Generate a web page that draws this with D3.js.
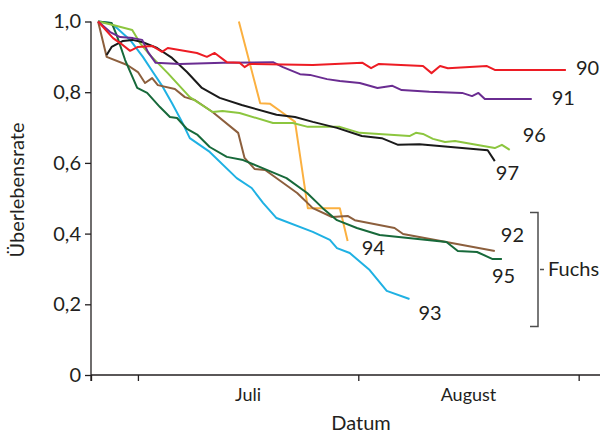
<!DOCTYPE html>
<html>
<head>
<meta charset="utf-8">
<script src="https://cdn.jsdelivr.net/npm/d3@7"></script>
<style>
  body { margin: 0; background: #fff; }
  svg text { font-family: Lato, "Open Sans", sans-serif; fill: #231f20; }
</style>
</head>
<body>
<svg id="chart" width="600" height="435"></svg>
<script>
// days counted from 1 June (1 July = 30, 1 August = 61, 1 September = 92)
const monthTicks = [30, 61, 92];
const monthNames = ["Juli", "August"];
const yTicks = [0, 0.2, 0.4, 0.6, 0.8, 1.0];

const s90 = [[24.4,1.0],[26.5,0.953],[27.5,0.939],[28.9,0.917],[30,0.928],[32,0.931],[33.4,0.914],[34.2,0.925],[38.3,0.911],[39.7,0.9],[40.8,0.911],[42.5,0.885],[44.3,0.883],[45,0.871],[45.7,0.88],[54.6,0.877],[61.6,0.883],[62.8,0.868],[63.9,0.88],[70.1,0.874],[71.3,0.854],[72.5,0.874],[73.6,0.868],[79.1,0.874],[80.2,0.863],[90.2,0.863]];
const s91 = [[24.4,1.0],[26.1,0.97],[27.5,0.956],[29.3,0.953],[30.6,0.948],[31.4,0.914],[32.5,0.883],[35.9,0.88],[42,0.883],[49,0.885],[50.4,0.871],[52.8,0.851],[54.2,0.849],[56.6,0.837],[58.4,0.832],[61.2,0.826],[63.7,0.812],[65.8,0.818],[67.1,0.806],[71,0.801],[75.6,0.798],[77,0.789],[77.9,0.798],[78.8,0.781],[85.4,0.781]];
const s92 = [[24.4,1.0],[25.6,0.9],[28.5,0.877],[30,0.857],[31,0.826],[32,0.84],[32.8,0.82],[35.2,0.809],[36.6,0.786],[38,0.778],[40.5,0.744],[44.1,0.685],[45,0.614],[46.4,0.583],[47.9,0.58],[52.4,0.515],[54.6,0.472],[57.3,0.447],[59.5,0.45],[60.5,0.438],[66.1,0.416],[67.3,0.399],[80.2,0.351]];
const s93 = [[24.4,1.0],[26.1,0.996],[27,0.982],[28.9,0.948],[30.7,0.9],[32.1,0.857],[33.5,0.815],[34.8,0.769],[36.2,0.716],[37.3,0.67],[40.1,0.631],[43.9,0.557],[46,0.529],[47.6,0.487],[49.5,0.444],[54.6,0.405],[57,0.382],[58,0.359],[59.8,0.345],[62.6,0.297],[65,0.238],[68.2,0.215]];
const s94 = [[44.2,1.0],[47.2,0.769],[48.6,0.767],[50.4,0.741],[52.1,0.716],[53.9,0.472],[58.4,0.472],[59.5,0.379]];
const s95 = [[24.4,1.0],[26.3,0.996],[27,0.962],[28.2,0.891],[29.9,0.812],[31.3,0.798],[33.1,0.758],[34.5,0.73],[35.5,0.727],[36.9,0.696],[38.4,0.679],[40.1,0.645],[42.5,0.617],[44.8,0.608],[47.2,0.588],[50.9,0.557],[53.8,0.515],[56,0.472],[58,0.438],[60.8,0.416],[64,0.396],[73.4,0.376],[75,0.351],[77.7,0.348],[79.9,0.328],[81.2,0.328]];
const s96 = [[24.4,1.0],[26.5,0.99],[29.2,0.976],[30.3,0.939],[31.7,0.905],[34.2,0.854],[37.3,0.786],[40.5,0.744],[41.9,0.747],[44.3,0.741],[49,0.713],[51.8,0.713],[53.9,0.702],[58.4,0.702],[61.2,0.685],[68.2,0.676],[69.1,0.685],[70.1,0.682],[71.5,0.668],[73.2,0.659],[74.6,0.662],[80.2,0.642],[81.2,0.651],[82.3,0.637]];
const s97 = [[25.6,0.905],[26.3,0.928],[27.9,0.945],[29.2,0.948],[30.6,0.942],[32.7,0.925],[34.8,0.897],[36.9,0.857],[39,0.812],[41.5,0.784],[44.6,0.764],[49.5,0.736],[52.1,0.73],[54.6,0.716],[58,0.699],[61.5,0.676],[64.3,0.67],[66.6,0.651],[69.6,0.653],[79.2,0.636],[80.2,0.605]];

// drawing order, colour and label offset (px) from the last point
const series = [
  { name: "94", data: s94, color: "#fbb040", dx: 14, dy: 7 },
  { name: "93", data: s93, color: "#1fb1e3", dx: 9, dy: 14 },
  { name: "92", data: s92, color: "#8c5f3d", dx: 6, dy: -16 },
  { name: "95", data: s95, color: "#17693a", dx: -10, dy: 17 },
  { name: "96", data: s96, color: "#8cc63f", dx: 13, dy: -15 },
  { name: "97", data: s97, color: "#1a1a1a", dx: 1, dy: 12 },
  { name: "91", data: s91, color: "#6a2c91", dx: 20, dy: -1 },
  { name: "90", data: s90, color: "#ed1c24", dx: 10, dy: -2 }
];

const svg = d3.select("#chart");
const x = d3.scaleLinear().domain([23.4, 95]).range([91, 600]);
const y = d3.scaleLinear().domain([0, 1]).range([375, 21.5]);

// axes
const xAxis = svg.append("g").attr("transform", "translate(0,375)")
  .call(d3.axisBottom(x).tickValues([23.4].concat(monthTicks)).tickSize(6).tickFormat(""));
xAxis.select(".domain").attr("d", "M91,0H600");
const yAxis = svg.append("g").attr("transform", "translate(91,0)")
  .call(d3.axisLeft(y).tickValues(yTicks).tickSize(6).tickPadding(4)
    .tickFormat(d => d === 0 ? "0" : d3.format(".1f")(d).replace(".", ",")));
yAxis.select(".domain").attr("d", "M0,21.5V381");
svg.selectAll(".domain, .tick line").attr("stroke", "#231f20").attr("stroke-width", 1.3);
yAxis.selectAll("text").attr("font-size", 20).style("font-family", "Lato, sans-serif").attr("fill", "#231f20");

svg.selectAll(".month").data(monthNames).enter().append("text")
  .attr("class", "month")
  .attr("x", (d, i) => (x(monthTicks[i]) + x(monthTicks[i + 1])) / 2)
  .attr("y", 401).attr("text-anchor", "middle").attr("font-size", 18)
  .text(d => d);

svg.append("text").attr("x", 361).attr("y", 430).attr("text-anchor", "middle")
  .attr("font-size", 20).text("Datum");
svg.append("text").attr("transform", "translate(24,190) rotate(-90)")
  .attr("text-anchor", "middle").attr("font-size", 20).text("Überlebensrate");

// lines
const line = d3.line().x(d => x(d[0])).y(d => y(d[1]));
svg.selectAll(".series").data(series).enter().append("path")
  .attr("class", "series")
  .attr("d", d => line(d.data))
  .attr("fill", "none").attr("stroke", d => d.color)
  .attr("stroke-width", 2).attr("stroke-linejoin", "round");

svg.selectAll(".lab").data(series).enter().append("text")
  .attr("class", "lab")
  .attr("x", d => x(d.data[d.data.length - 1][0]) + d.dx)
  .attr("y", d => y(d.data[d.data.length - 1][1]) + d.dy)
  .attr("dy", "0.35em").attr("font-size", 20)
  .text(d => d.name);

// Fuchs bracket
const bTop = y(0.46), bBot = y(0.137), bMid = (bTop + bBot) / 2;
svg.append("path")
  .attr("d", `M530,${bTop}H538V${bBot}H530M540,${bMid}H544`)
  .attr("fill", "none").attr("stroke", "#4d4d4d").attr("stroke-width", 1.5);
svg.append("text").attr("x", 548).attr("y", bMid).attr("dy", "0.35em")
  .attr("font-size", 20).text("Fuchs");
</script>
</body>
</html>
